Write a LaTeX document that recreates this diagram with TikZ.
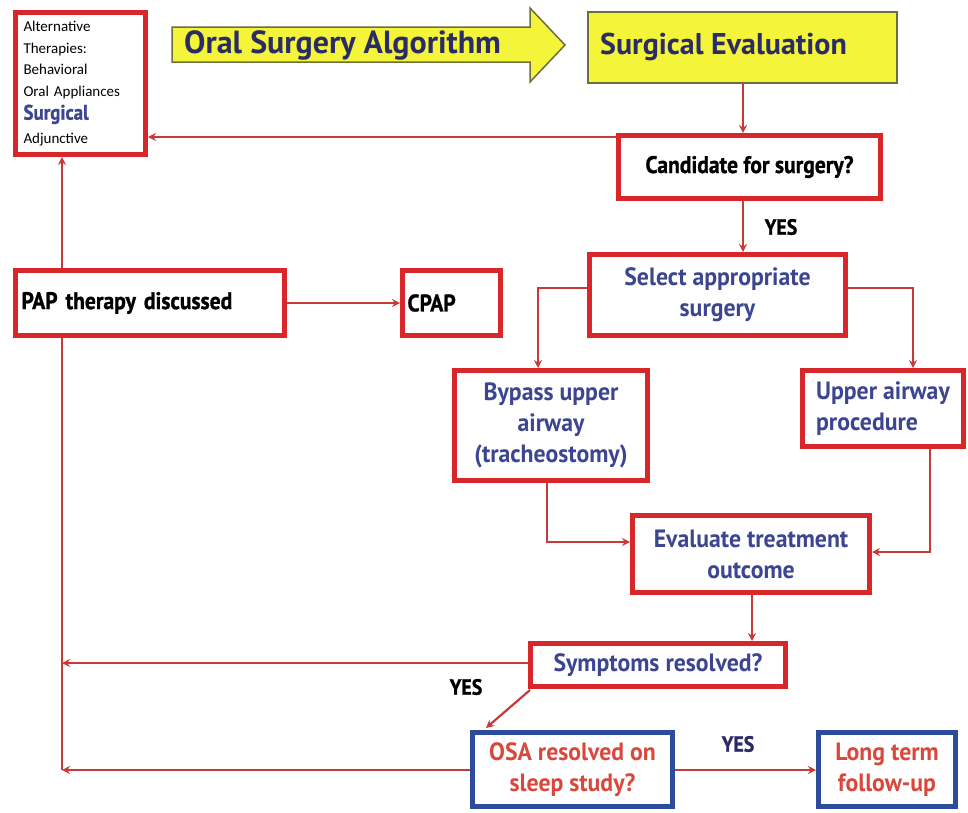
\documentclass[tikz,border=0pt]{standalone}
\usepackage{fontspec}
\setmainfont{PT Sans}
\newfontfamily\hfont{PT Sans}[FakeStretch=0.9,FakeBold=1]
\newfontfamily\bfont{PT Sans}[FakeStretch=0.95]
\newfontfamily\tfont{PT Sans}[FakeStretch=1.0]
\newfontfamily\cfont{Carlito}
\usetikzlibrary{arrows.meta}
\definecolor{boxred}{HTML}{D9262B}
\definecolor{linered}{HTML}{C83A3A}
\definecolor{boxblue}{HTML}{2D4B9B}
\definecolor{txtblue}{HTML}{3B4590}
\definecolor{navy}{HTML}{2A2C66}
\definecolor{ylw}{HTML}{F4F43A}
\definecolor{ylwedge}{HTML}{6E6E3C}
\definecolor{osared}{HTML}{D9483C}
\newcommand\fblk{\hfont\bfseries\fontsize{24}{28}\selectfont}
\newcommand\fblu{\bfont\bfseries\fontsize{25}{31}\selectfont}
\begin{document}
\begin{tikzpicture}[x=1pt,y=-1pt,
  redbox/.style={draw=boxred, line width=5pt, fill=white, inner sep=0pt, align=center},
  bluebox/.style={draw=boxblue, line width=5pt, fill=white, inner sep=0pt, align=center},
  blk/.style={font=\fblk, text=black},
  blu/.style={font=\fblu, text=txtblue},
  rdt/.style={font=\fblu, text=osared},
  ylwbox/.style={draw=ylwedge, line width=1.5pt, fill=ylw, inner sep=0pt},
  conn/.style={draw=linered, line width=2.2pt, -{Stealth[length=8pt,width=8pt]}},
  plainline/.style={draw=linered, line width=2.2pt},
  yeslbl/.style={inner sep=0pt, font=\hfont\bfseries\fontsize{22}{24}\selectfont, text=black}]
\useasboundingbox[fill=white] (0,0) rectangle (968,812);

% title arrow
\draw[ylwbox] (172,27) -- (530,27) -- (530,8) -- (565,45) -- (530,82) -- (530,62) -- (172,62) -- cycle;
\node[inner sep=0pt, anchor=west, font=\tfont\bfseries\fontsize{32}{36}\selectfont, text=navy] (title) at (184,45)
  {Oral Surgery Algorithm};

% nodes
\node[redbox, minimum width=130pt, minimum height=142pt, text width=114pt, inner xsep=8pt, align=left,
      font=\cfont\fontsize{15}{21.5}\selectfont] (alt) at (80.5,83.5)
  {Alternative\\Therapies:\\Behavioral\\Oral Appliances\\[2pt]
   {\hfont\bfseries\fontsize{21}{21}\selectfont\color{txtblue}Surgical}\\[2pt]Adjunctive};
\node[ylwbox, minimum width=309pt, minimum height=71pt] (sureval) at (742.5,47.5) {};
\node[inner sep=0pt, anchor=west, font=\tfont\bfseries\fontsize{30}{34}\selectfont, text=navy] (surevaltxt) at (600,47)
  {Surgical Evaluation};
\node[redbox, blk, minimum width=262pt, minimum height=63pt] (cand) at (749.5,167) {Candidate for surgery?};
\node[redbox, blu, minimum width=256pt, minimum height=81pt] (select) at (717.5,295) {Select appropriate\\surgery};
\node[redbox, blk, minimum width=269pt, minimum height=65pt, align=left, text width=257pt] (pap) at (150,303) {PAP therapy discussed};
\node[redbox, blk, minimum width=98pt, minimum height=65pt, align=left, text width=88pt] (cpap) at (451.5,303) {CPAP};
\node[redbox, blu, minimum width=193pt, minimum height=110pt] (bypass) at (551,425.5) {Bypass upper\\airway\\(tracheostomy)};
\node[redbox, blu, minimum width=161pt, minimum height=76pt, align=left] (upper) at (883,408.5) {Upper airway\\procedure};
\node[redbox, blu, minimum width=237pt, minimum height=77pt] (eval) at (751,554) {Evaluate treatment\\outcome};
\node[redbox, blu, minimum width=255pt, minimum height=43pt] (sympt) at (658,665) {Symptoms resolved?};
\node[bluebox, rdt, minimum width=200pt, minimum height=74pt] (osa) at (572.5,769.5) {OSA resolved on\\sleep study?};
\node[bluebox, rdt, minimum width=137pt, minimum height=74pt] (longterm) at (887,769.5) {Long term\\follow-up};

% labels
\node[yeslbl] (yes1) at (781,227) {YES};
\node[yeslbl] (yes2) at (466,687) {YES};
\node[yeslbl, text=navy] (yes3) at (738,744) {YES};

% helper coordinates
\coordinate (yA) at (0,137);
\coordinate (xA) at (743,0);
\coordinate (yB) at (0,288);
\coordinate (xL) at (538,0);
\coordinate (xR) at (913,0);
\coordinate (xV) at (62,0);
\coordinate (yS) at (0,663);
\coordinate (yO) at (0,770);
\coordinate (yE1) at (0,542);
\coordinate (yE2) at (0,552);
\coordinate (xB) at (547,0);
\coordinate (xU) at (930,0);
\coordinate (xE) at (752,0);
\coordinate (bend1) at (538,288);
\coordinate (bend2) at (913,288);
\coordinate (bend3) at (547,542);
\coordinate (bend4) at (930,552);
\coordinate (dstart) at (530,690);
\coordinate (dend) at (486,728);
\coordinate (vbottom) at (62,770);

% connectors
\draw[conn] (sureval.south -| xA) -- (cand.north -| xA);
\draw[conn] (cand.west |- yA) -- (alt.east |- yA);
\draw[conn] (cand.south -| xA) -- (select.north -| xA);
\draw[conn] (select.west |- yB) -- (bend1) -- (bypass.north -| xL);
\draw[conn] (select.east |- yB) -- (bend2) -- (upper.north -| xR);
\draw[conn] (pap.east) -- (cpap.west);
\draw[conn] (pap.north -| xV) -- (alt.south -| xV);
\draw[plainline] (pap.south -| xV) -- (vbottom);
\draw[conn] (sympt.west |- yS) -- (xV |- yS);
\draw[conn] (osa.west |- yO) -- (vbottom);
\draw[conn] (bypass.south -| xB) -- (bend3) -- (eval.west |- yE1);
\draw[conn] (upper.south -| xU) -- (bend4) -- (eval.east |- yE2);
\draw[conn] (eval.south -| xE) -- (sympt.north -| xE);
\draw[conn] (dstart) -- (dend);
\draw[conn] (osa.east |- yO) -- (longterm.west |- yO);
\end{tikzpicture}
\end{document}
